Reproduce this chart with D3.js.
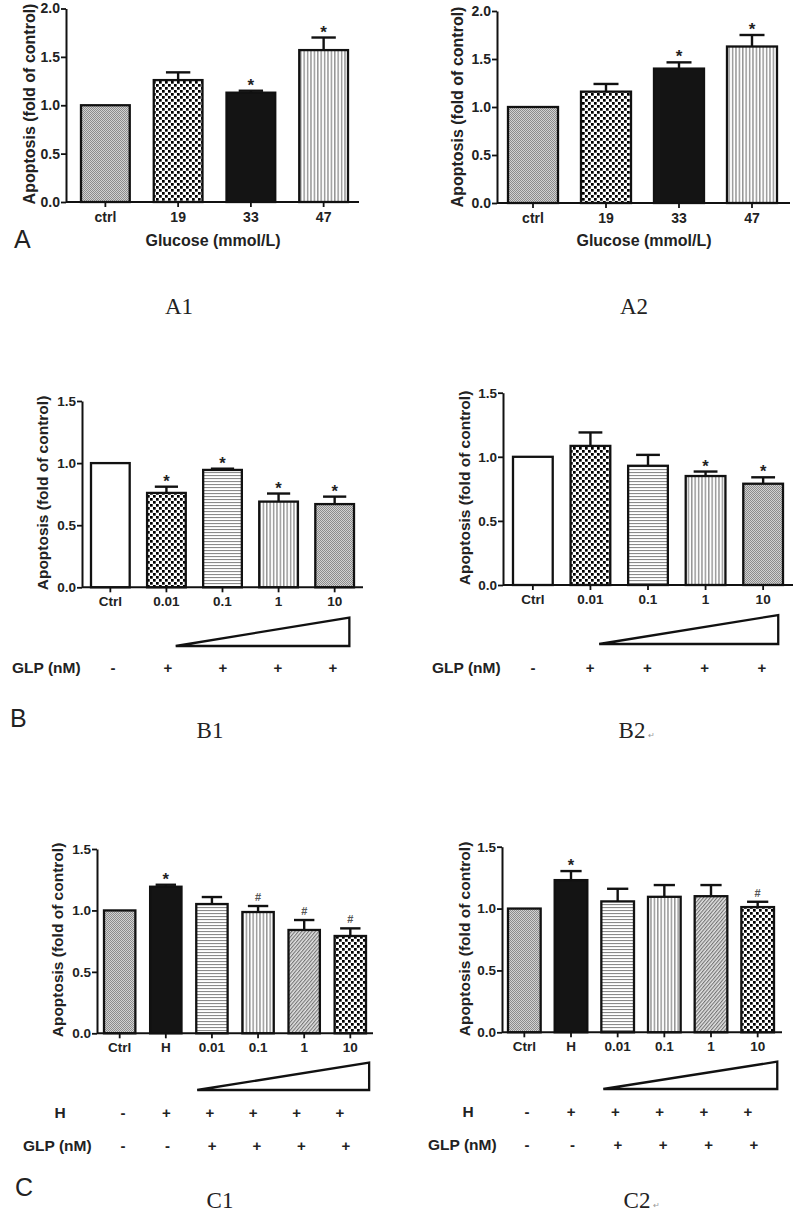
<!DOCTYPE html>
<html><head><meta charset="utf-8">
<script src="https://cdn.jsdelivr.net/npm/d3@7"></script>
<style>body{margin:0;background:#fff} svg{display:block}</style>
</head><body>
<svg id="fig" width="800" height="1213"></svg>
<script>
// ---------- DATA ----------
const catsA = ["ctrl", "19", "33", "47"];
const a1Values = [1.00, 1.26, 1.13, 1.57];
const a1Errors = [0, 0.08, 0.02, 0.13];
const a1Marks  = ["", "", "*", "*"];
const a2Values = [1.00, 1.16, 1.40, 1.63];
const a2Errors = [0, 0.08, 0.065, 0.12];
const a2Marks  = ["", "", "*", "*"];
const yTicksA = [0, 0.5, 1.0, 1.5, 2.0];

const catsB = ["Ctrl", "0.01", "0.1", "1", "10"];
const b1Values = [1.00, 0.76, 0.945, 0.69, 0.67];
const b1Errors = [0, 0.05, 0.01, 0.065, 0.06];
const b1Marks  = ["", "*", "*", "*", "*"];
const b2Values = [1.00, 1.085, 0.93, 0.85, 0.79];
const b2Errors = [0, 0.105, 0.085, 0.035, 0.05];
const b2Marks  = ["", "", "", "*", "*"];
const bGlpSigns = ["-", "+", "+", "+", "+"];

const catsC = ["Ctrl", "H", "0.01", "0.1", "1", "10"];
const c1Values = [1.00, 1.193, 1.052, 0.987, 0.841, 0.792];
const c1Errors = [0, 0.016, 0.057, 0.049, 0.081, 0.062];
const c1Marks  = ["", "*", "", "#", "#", "#"];
const c2Values = [1.00, 1.23, 1.058, 1.095, 1.10, 1.012];
const c2Errors = [0, 0.073, 0.102, 0.095, 0.09, 0.043];
const c2Marks  = ["", "*", "", "", "", "#"];
const cHSigns   = ["-", "+", "+", "+", "+", "+"];
const cGlpSigns = ["-", "-", "+", "+", "+", "+"];
const yTicksBC = [0, 0.5, 1.0, 1.5];

const fillsA = ["gray", "checker", "black", "vstripe"];
const fillsB = ["white", "checker", "hstripe", "vstripe", "gray"];
const fillsC = ["gray", "black", "hstripe", "vstripe", "diag", "checker"];

// ---------- SETUP ----------
const svg = d3.select("#fig");
const SANS = "'Liberation Sans', Arial, sans-serif";
const SERIF = "'Liberation Serif', 'Times New Roman', serif";
const defs = svg.append("defs");

function pat(id, w, h, build, transform) {
  const p = defs.append("pattern").attr("id", id).attr("patternUnits", "userSpaceOnUse")
    .attr("width", w).attr("height", h);
  if (transform) p.attr("patternTransform", transform);
  build(p);
}
pat("gray", 2, 2, p => {
  p.append("rect").attr("width", 2).attr("height", 2).attr("fill", "#d2d2d2");
  p.append("rect").attr("width", 1).attr("height", 1).attr("fill", "#8c8c8c");
  p.append("rect").attr("x", 1).attr("y", 1).attr("width", 1).attr("height", 1).attr("fill", "#8c8c8c");
});
pat("checker", 6, 6, p => {
  p.append("rect").attr("width", 6).attr("height", 6).attr("fill", "#fff");
  p.append("rect").attr("x", 0).attr("y", 0).attr("width", 2.7).attr("height", 2.7).attr("fill", "#000");
  p.append("rect").attr("x", 3).attr("y", 3).attr("width", 2.7).attr("height", 2.7).attr("fill", "#000");
});
pat("vstripe", 3.4, 4, p => {
  p.append("rect").attr("width", 3.4).attr("height", 4).attr("fill", "#fff");
  p.append("rect").attr("x", 1).attr("width", 1.2).attr("height", 4).attr("fill", "#808080");
});
pat("hstripe", 4, 3, p => {
  p.append("rect").attr("width", 4).attr("height", 3).attr("fill", "#fff");
  p.append("rect").attr("y", 1).attr("width", 4).attr("height", 1.1).attr("fill", "#8a8a8a");
});
pat("diag", 2.6, 4, p => {
  p.append("rect").attr("width", 2.6).attr("height", 4).attr("fill", "#e2e2e2");
  p.append("rect").attr("width", 1.1).attr("height", 4).attr("fill", "#747474");
}, "rotate(40)");

function fillOf(k) {
  if (k === "white") return "#fff";
  if (k === "black") return "#141414";
  return "url(#" + k + ")";
}

// ---------- PANEL ----------
function drawPanel(cfg) {
  const g = svg.append("g");
  const x = d3.scaleBand().domain(cfg.cats).range(cfg.barRange).paddingInner(cfg.pad).paddingOuter(0);
  const y = d3.scaleLinear().domain([0, cfg.ymax]).range(cfg.yRange);
  const bw = x.bandwidth();
  const data = cfg.cats.map((c, i) => ({ c, v: cfg.values[i], e: cfg.errors[i], m: cfg.marks[i], f: cfg.fills[i] }));

  // bars
  g.selectAll("rect.bar").data(data).join("rect").attr("class", "bar")
    .attr("x", d => x(d.c)).attr("y", d => y(d.v))
    .attr("width", bw).attr("height", d => y(0) - y(d.v))
    .attr("fill", d => fillOf(d.f)).attr("stroke", "#111").attr("stroke-width", 2.3);

  // error bars
  const eb = data.filter(d => d.e > 0);
  const capW = bw * cfg.capFrac;
  g.selectAll("line.ev").data(eb).join("line")
    .attr("x1", d => x(d.c) + bw / 2).attr("x2", d => x(d.c) + bw / 2)
    .attr("y1", d => y(d.v)).attr("y2", d => y(d.v + d.e))
    .attr("stroke", "#111").attr("stroke-width", 2.4);
  g.selectAll("line.ec").data(eb).join("line")
    .attr("x1", d => x(d.c) + bw / 2 - capW / 2).attr("x2", d => x(d.c) + bw / 2 + capW / 2)
    .attr("y1", d => y(d.v + d.e)).attr("y2", d => y(d.v + d.e))
    .attr("stroke", "#111").attr("stroke-width", 2.4);

  // significance marks
  g.selectAll("text.mk").data(data.filter(d => d.m)).join("text")
    .attr("x", d => x(d.c) + bw / 2)
    .attr("y", d => y(d.v + d.e) - (d.m === "*" ? 0 : 5))
    .attr("text-anchor", "middle")
    .attr("font-family", SANS).attr("font-weight", "bold")
    .attr("font-size", d => d.m === "*" ? cfg.tickFs + 3 : 11)
    .attr("fill", d => d.m === "*" ? "#222" : "#555")
    .text(d => d.m);

  // y axis
  const ya = g.append("g").attr("transform", `translate(${cfg.yAxisX},0)`)
    .call(d3.axisLeft(y).tickValues(cfg.yTicks).tickFormat(d3.format(".1f")).tickSize(5).tickSizeOuter(0).tickPadding(1));
  ya.select(".domain").attr("stroke", "#111").attr("stroke-width", 2);
  ya.selectAll(".tick line").attr("stroke", "#111").attr("stroke-width", 1.8);
  ya.selectAll(".tick text").attr("font-family", SANS).attr("font-weight", "bold")
    .attr("font-size", cfg.tickFs).attr("fill", "#222");

  // x axis
  const xa = g.append("g").attr("transform", `translate(0,${y(0)})`)
    .call(d3.axisBottom(x).tickSize(5).tickSizeOuter(0).tickPadding(cfg.xPad));
  xa.select(".domain").remove();
  xa.append("line").attr("x1", cfg.yAxisX).attr("x2", cfg.axisEnd).attr("y1", 0).attr("y2", 0)
    .attr("stroke", "#111").attr("stroke-width", 2);
  xa.selectAll(".tick line").attr("stroke", "#111").attr("stroke-width", 1.8);
  xa.selectAll(".tick text").attr("font-family", SANS).attr("font-weight", "bold")
    .attr("font-size", cfg.tickFs).attr("fill", "#222");

  // y title
  g.append("text").attr("transform", `translate(${cfg.yTitleX},${cfg.yTitleY}) rotate(-90)`)
    .attr("text-anchor", "middle").attr("dominant-baseline", "central")
    .attr("font-family", SANS).attr("font-weight", "bold").attr("font-size", cfg.titleFs)
    .attr("fill", "#222").text("Apoptosis (fold of control)");

  if (cfg.xTitle) {
    g.append("text").attr("x", cfg.xTitleX).attr("y", cfg.xTitleY).attr("text-anchor", "middle")
      .attr("font-family", SANS).attr("font-weight", "bold").attr("font-size", cfg.titleFs)
      .attr("fill", "#222").text(cfg.xTitle);
  }

  // dose triangle
  if (cfg.tri) {
    const t = cfg.tri;
    const xl = x(cfg.cats[t.from]) + t.lf * bw;
    const xr = x(cfg.cats[cfg.cats.length - 1]) + t.rf * bw;
    g.append("path")
      .attr("d", d3.line()([[xl, t.bottom], [xr, t.top], [xr, t.bottom]]) + "Z")
      .attr("fill", "#fff").attr("stroke", "#111").attr("stroke-width", 2.3).attr("stroke-linejoin", "miter");
  }

  // sign rows
  (cfg.rows || []).forEach(r => {
    g.append("text").attr("x", r.labelX).attr("y", r.y)
      .attr("text-anchor", r.anchor || "start")
      .attr("font-family", SANS).attr("font-weight", "bold").attr("font-size", cfg.titleFs)
      .attr("fill", "#222").text(r.label);
    const px = d3.scalePoint().domain(d3.range(r.signs.length)).range(r.range);
    g.selectAll(null).data(r.signs).join("text")
      .attr("x", (d, i) => px(i)).attr("y", r.y)
      .attr("text-anchor", "middle")
      .attr("font-family", SANS).attr("font-weight", "bold").attr("font-size", 15)
      .attr("fill", "#222").text(d => d);
  });
}

// ---------- PANELS ----------
drawPanel({ cats: catsA, values: a1Values, errors: a1Errors, marks: a1Marks, fills: fillsA,
  ymax: 2, yTicks: yTicksA, yRange: [202, 8.5], yAxisX: 66, axisEnd: 359,
  barRange: [81, 348], pad: 0.33, capFrac: 0.5, tickFs: 14, titleFs: 16, xPad: 5,
  yTitleX: 29, yTitleY: 104, xTitle: "Glucose (mmol/L)", xTitleX: 213, xTitleY: 246 });

drawPanel({ cats: catsA, values: a2Values, errors: a2Errors, marks: a2Marks, fills: fillsA,
  ymax: 2, yTicks: yTicksA, yRange: [203, 11], yAxisX: 497, axisEnd: 790,
  barRange: [508, 777], pad: 0.315, capFrac: 0.5, tickFs: 14, titleFs: 16, xPad: 5,
  yTitleX: 457, yTitleY: 107, xTitle: "Glucose (mmol/L)", xTitleX: 644, xTitleY: 246 });

drawPanel({ cats: catsB, values: b1Values, errors: b1Errors, marks: b1Marks, fills: fillsB,
  ymax: 1.5, yTicks: yTicksBC, yRange: [587.3, 401], yAxisX: 82, axisEnd: 363,
  barRange: [91, 354], pad: 0.31, capFrac: 0.6, tickFs: 13.5, titleFs: 15.5, xPad: 4.5,
  yTitleX: 42, yTitleY: 493,
  tri: { from: 1, lf: 0.74, rf: 0.88, top: 617.5, bottom: 646 },
  rows: [{ label: "GLP (nM)", labelX: 12, y: 673, signs: bGlpSigns, range: [113, 333] }] });

drawPanel({ cats: catsB, values: b2Values, errors: b2Errors, marks: b2Marks, fills: fillsB,
  ymax: 1.5, yTicks: yTicksBC, yRange: [585, 392.7], yAxisX: 503, axisEnd: 793,
  barRange: [513, 783], pad: 0.31, capFrac: 0.6, tickFs: 13.5, titleFs: 15.5, xPad: 4.5,
  yTitleX: 464, yTitleY: 488,
  tri: { from: 1, lf: 0.72, rf: 0.88, top: 615, bottom: 644 },
  rows: [{ label: "GLP (nM)", labelX: 432, y: 673, signs: bGlpSigns, range: [533, 762] }] });

drawPanel({ cats: catsC, values: c1Values, errors: c1Errors, marks: c1Marks, fills: fillsC,
  ymax: 1.5, yTicks: yTicksBC, yRange: [1033.3, 849], yAxisX: 97, axisEnd: 373,
  barRange: [104, 366], pad: 0.32, capFrac: 0.65, tickFs: 13.5, titleFs: 15.5, xPad: 4,
  yTitleX: 57, yTitleY: 940,
  tri: { from: 2, lf: 0.03, rf: 1.1, top: 1062.7, bottom: 1090 },
  rows: [{ label: "H", labelX: 60, anchor: "middle", y: 1118, signs: cHSigns, range: [123, 340] },
         { label: "GLP (nM)", labelX: 23, y: 1151, signs: cGlpSigns, range: [123, 346] }] });

drawPanel({ cats: catsC, values: c2Values, errors: c2Errors, marks: c2Marks, fills: fillsC,
  ymax: 1.5, yTicks: yTicksBC, yRange: [1032.3, 846.7], yAxisX: 502, axisEnd: 782,
  barRange: [508, 774], pad: 0.30, capFrac: 0.65, tickFs: 13.5, titleFs: 15.5, xPad: 4,
  yTitleX: 464.5, yTitleY: 939,
  tri: { from: 2, lf: 0.06, rf: 1.1, top: 1061.7, bottom: 1089 },
  rows: [{ label: "H", labelX: 468, anchor: "middle", y: 1117, signs: cHSigns, range: [527, 748] },
         { label: "GLP (nM)", labelX: 428, y: 1150, signs: cGlpSigns, range: [527, 754] }] });

// ---------- PANEL LETTERS & CAPTIONS ----------
const letters = [["A", 14, 248], ["B", 10, 727], ["C", 15, 1196]];
svg.selectAll("text.letter").data(letters).join("text").attr("class", "letter")
  .attr("x", d => d[1]).attr("y", d => d[2])
  .attr("font-family", SANS).attr("font-size", 25).attr("fill", "#222").text(d => d[0]);

const captions = [["A1", 179, 314], ["A2", 634, 314], ["B1", 210, 738], ["B2", 632, 738], ["C1", 220, 1208], ["C2", 637, 1208]];
svg.selectAll("text.cap").data(captions).join("text").attr("class", "cap")
  .attr("x", d => d[1]).attr("y", d => d[2]).attr("text-anchor", "middle")
  .attr("font-family", SERIF).attr("font-size", 23).attr("fill", "#222").text(d => d[0]);
const returns = [[648, 738], [653, 1208]];
svg.selectAll("text.ret").data(returns).join("text").attr("class", "ret")
  .attr("x", d => d[0]).attr("y", d => d[1])
  .attr("font-family", SANS).attr("font-size", 8).attr("fill", "#999").text("\u21B5");
</script>
</body></html>
